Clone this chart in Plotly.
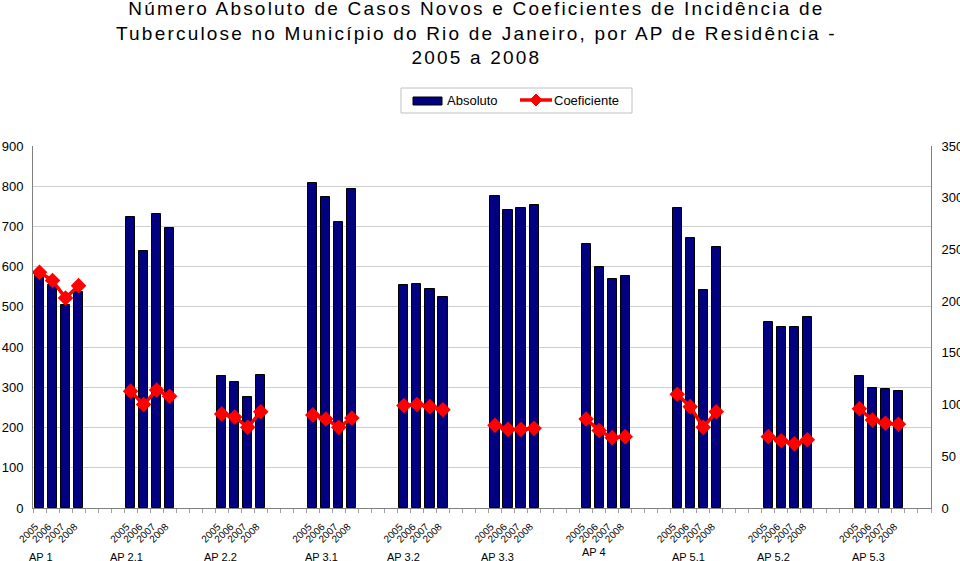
import plotly.graph_objects as go

groups = ["AP 1", "AP 2.1", "AP 2.2", "AP 3.1", "AP 3.2", "AP 3.3", "AP 4", "AP 5.1", "AP 5.2", "AP 5.3"]
years = ["2005", "2006", "2007", "2008"]

absoluto = [
    [585, 554, 504, 537],
    [723, 640, 730, 697],
    [328, 314, 276, 330],
    [809, 772, 712, 792],
    [554, 557, 544, 525],
    [775, 741, 747, 754],
    [656, 600, 569, 577],
    [745, 672, 542, 650],
    [462, 451, 450, 475],
    [328, 298, 295, 290],
]

coeficiente = [
    [228, 220, 203, 215],
    [113, 100, 114, 108],
    [91, 88, 78, 93],
    [90, 86, 78, 87],
    [99, 100, 98, 95],
    [80, 76, 76, 77],
    [86, 75, 68, 69],
    [110, 98, 78, 93],
    [69, 65, 62, 66],
    [96, 85, 82, 81],
]

title_lines = [
    "Número Absoluto de Casos Novos e Coeficientes de Incidência de",
    "Tuberculose no Município do Rio de Janeiro, por AP de Residência -",
    "2005 a 2008",
]

# layout helpers (positions, not data)
SLOTS_PER_GROUP = 7
group_label_x = [0.1, 6.7, 13.9, 21.7, 28.0, 35.2, 42.6, 49.9, 56.4, 63.7]
group_label_py = [557, 557, 557, 557, 557, 557, 552, 557, 557, 557]

W, H = 960, 561
ML, MR, MT, MB = 33, 29, 146, 53
PW, PH = W - ML - MR, H - MT - MB


def px_x(px):
    return (px - ML) / PW


def px_y(py):
    return (H - MB - py) / PH


bar_x, bar_y, tick_text = [], [], []
line_x, line_y = [], []
for g, grp in enumerate(groups):
    for i, yr in enumerate(years):
        pos = g * SLOTS_PER_GROUP + i
        bar_x.append(pos)
        bar_y.append(absoluto[g][i])
        tick_text.append(yr)
        line_x.append(pos)
        line_y.append(coeficiente[g][i])
    line_x.append(None)
    line_y.append(None)

FONT = "Liberation Sans, Arial, sans-serif"
NAVY = "#000080"
RED = "#FF0000"

fig = go.Figure()
fig.add_trace(go.Bar(
    x=bar_x, y=bar_y, name="Absoluto", width=0.7,
    marker=dict(color=NAVY, line=dict(color="#000000", width=1)),
    yaxis="y", showlegend=False,
))
fig.add_trace(go.Scatter(
    x=line_x, y=line_y, name="Coeficiente", mode="lines+markers",
    line=dict(color=RED, width=3.5),
    marker=dict(symbol="diamond", size=12, color=RED),
    connectgaps=False, yaxis="y2", showlegend=False,
))

annotations = []
for g, grp in enumerate(groups):
    annotations.append(dict(
        x=group_label_x[g], y=px_y(group_label_py[g]), xref="x", yref="paper",
        text=grp, showarrow=False, xanchor="center", yanchor="middle",
        font=dict(family=FONT, size=11, color="#000000"),
    ))

# title
annotations.append(dict(
    x=px_x(476), y=px_y(-4), xref="paper", yref="paper", xanchor="center", yanchor="top",
    showarrow=False, align="center",
    text="<br>".join(f'<span style="letter-spacing:2.2px">{t}</span>' for t in title_lines),
    font=dict(family=FONT, size=19, color="#000000"),
))

# custom legend
shapes = [
    dict(type="rect", xref="paper", yref="paper", x0=px_x(401), x1=px_x(632), y0=px_y(113), y1=px_y(88),
         line=dict(color="#C0C0C0", width=1), fillcolor="white", layer="above"),
    dict(type="rect", xref="paper", yref="paper", x0=px_x(413), x1=px_x(442), y0=px_y(105), y1=px_y(97),
         line=dict(color="#000000", width=1), fillcolor=NAVY, layer="above"),
    dict(type="line", xref="paper", yref="paper", x0=px_x(520), x1=px_x(552), y0=px_y(100), y1=px_y(100),
         line=dict(color=RED, width=3.5), layer="above"),
    dict(type="path", xref="paper", yref="paper",
         path=(f"M {px_x(536)} {px_y(94)} L {px_x(542)} {px_y(100)} "
               f"L {px_x(536)} {px_y(106)} L {px_x(530)} {px_y(100)} Z"),
         line=dict(color=RED, width=1), fillcolor=RED, layer="above"),
]
annotations.append(dict(x=px_x(445), y=px_y(100.5), xref="paper", yref="paper", xanchor="left",
                        yanchor="middle", showarrow=False, text="Absoluto",
                        font=dict(family=FONT, size=13, color="#000000")))
annotations.append(dict(x=px_x(552), y=px_y(100.5), xref="paper", yref="paper", xanchor="left",
                        yanchor="middle", showarrow=False, text="Coeficiente",
                        font=dict(family=FONT, size=13, color="#000000")))

fig.update_layout(
    width=W, height=H,
    paper_bgcolor="white", plot_bgcolor="white",
    margin=dict(l=ML, r=MR, t=MT, b=MB, pad=0),
    font=dict(family=FONT, size=13, color="#000000"),
    showlegend=False,
    bargap=0,
    xaxis=dict(
        range=[-0.5, 68.5], tickmode="array", tickvals=bar_x, ticktext=tick_text,
        tickangle=-45, tickfont=dict(family=FONT, size=10), ticks="",
        ticklabelstandoff=8, ticklabelshift=-4,
        showgrid=False, zeroline=False, showline=True, linecolor="#808080", linewidth=1,
        minor=dict(tickmode="array", tickvals=[k + 0.5 for k in range(-1, 69)],
                   ticks="outside", ticklen=4, tickcolor="#A0A0A0", showgrid=False),
        automargin=False,
    ),
    yaxis=dict(
        range=[0, 900], dtick=100, showgrid=True, gridcolor="#CFCFCF", gridwidth=1,
        zeroline=False, showline=True, linecolor="#808080", linewidth=1,
        ticks="", ticklabelstandoff=6, tickfont=dict(family=FONT, size=13, color="#000000"),
        automargin=False,
    ),
    yaxis2=dict(
        range=[0, 350], dtick=50, overlaying="y", side="right", showgrid=False,
        zeroline=False, showline=True, linecolor="#808080", linewidth=1,
        ticks="", ticklabelstandoff=7, tickfont=dict(family=FONT, size=13, color="#000000"),
        automargin=False,
    ),
    annotations=annotations,
    shapes=shapes,
)

fig.write_html(
    "out.html",
    config={"displayModeBar": False},
    post_script="document.body.style.margin='0';document.body.style.padding='0';",
)
